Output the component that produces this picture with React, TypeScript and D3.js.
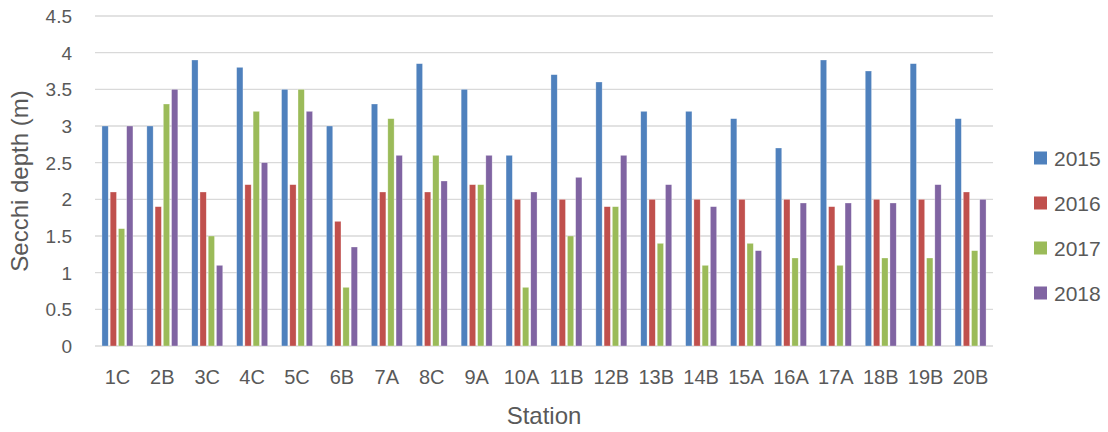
import React from "react";
import * as d3 from "d3";

const stations = ["1C","2B","3C","4C","5C","6B","7A","8C","9A","10A","11B","12B","13B","14B","15A","16A","17A","18B","19B","20B"];
const seriesNames = ["2015","2016","2017","2018"];
const v2015 = [3.0,3.0,3.9,3.8,3.5,3.0,3.3,3.85,3.5,2.6,3.7,3.6,3.2,3.2,3.1,2.7,3.9,3.75,3.85,3.1];
const v2016 = [2.1,1.9,2.1,2.2,2.2,1.7,2.1,2.1,2.2,2.0,2.0,1.9,2.0,2.0,2.0,2.0,1.9,2.0,2.0,2.1];
const v2017 = [1.6,3.3,1.5,3.2,3.5,0.8,3.1,2.6,2.2,0.8,1.5,1.9,1.4,1.1,1.4,1.2,1.1,1.2,1.2,1.3];
const v2018 = [3.0,3.5,1.1,2.5,3.2,1.35,2.6,2.25,2.6,2.1,2.3,2.6,2.2,1.9,1.3,1.95,1.95,1.95,2.2,2.0];
const yTicks = [0,0.5,1,1.5,2,2.5,3,3.5,4,4.5];
const colors = ["#4F81BD","#C0504D","#9BBB59","#8064A2"];

const W = 1108, H = 432;
const left = 95, right = 993, top = 16, bottom = 346;
const textColor = "#595959";
const font = "'Liberation Sans', Arial, sans-serif";

export default function App() {
  const values = [v2015, v2016, v2017, v2018];
  const x0 = d3.scaleBand<string>().domain(stations).range([left, right]).padding(0);
  const x1 = d3.scaleBand<string>().domain(seriesNames).range([-15.5, 15.5]).paddingInner(0.235).paddingOuter(0);
  const y = d3.scaleLinear().domain([0, 4.5]).range([bottom, top]);

  return (
    <svg width={W} height={H} style={{ position: "absolute", left: 0, top: 0, background: "#fff" }} fontFamily={font}>
      {yTicks.map((t) => (
        <g key={t}>
          <line x1={left} x2={right} y1={y(t)} y2={y(t)} stroke="#D9D9D9" strokeWidth={1.3} />
          <text x={72} y={y(t)} dy="0.36em" textAnchor="end" fontSize={19} fill={textColor}>{String(t)}</text>
        </g>
      ))}
      {stations.map((s, i) => {
        const cx = (x0(s) as number) + x0.bandwidth() / 2;
        return (
          <g key={s}>
            {seriesNames.map((n, j) => {
              const v = values[j][i];
              const bx = cx + (x1(n) as number);
              return (
                <rect key={n} x={bx} y={y(v)} width={x1.bandwidth()} height={y(0) - y(v)}
                  fill={colors[j]} stroke="#ffffff" strokeOpacity={0.5} strokeWidth={0.6} />
              );
            })}
            <text x={cx} y={377} dy="0.36em" textAnchor="middle" fontSize={20} fill={textColor}>{s}</text>
          </g>
        );
      })}
      <text x={(left + right) / 2} y={415} dy="0.36em" textAnchor="middle" fontSize={24} fill={textColor}>Station</text>
      <text transform={`translate(19,${(top + bottom) / 2}) rotate(-90)`} dy="0.36em" textAnchor="middle" fontSize={24} fill={textColor}>Secchi depth (m)</text>
      {seriesNames.map((n, j) => {
        const ly = 158 + j * 45;
        return (
          <g key={n}>
            <rect x={1034} y={ly - 6.5} width={13} height={13} fill={colors[j]} />
            <text x={1054} y={ly} dy="0.36em" fontSize={21} fill={textColor}>{n}</text>
          </g>
        );
      })}
    </svg>
  );
}
